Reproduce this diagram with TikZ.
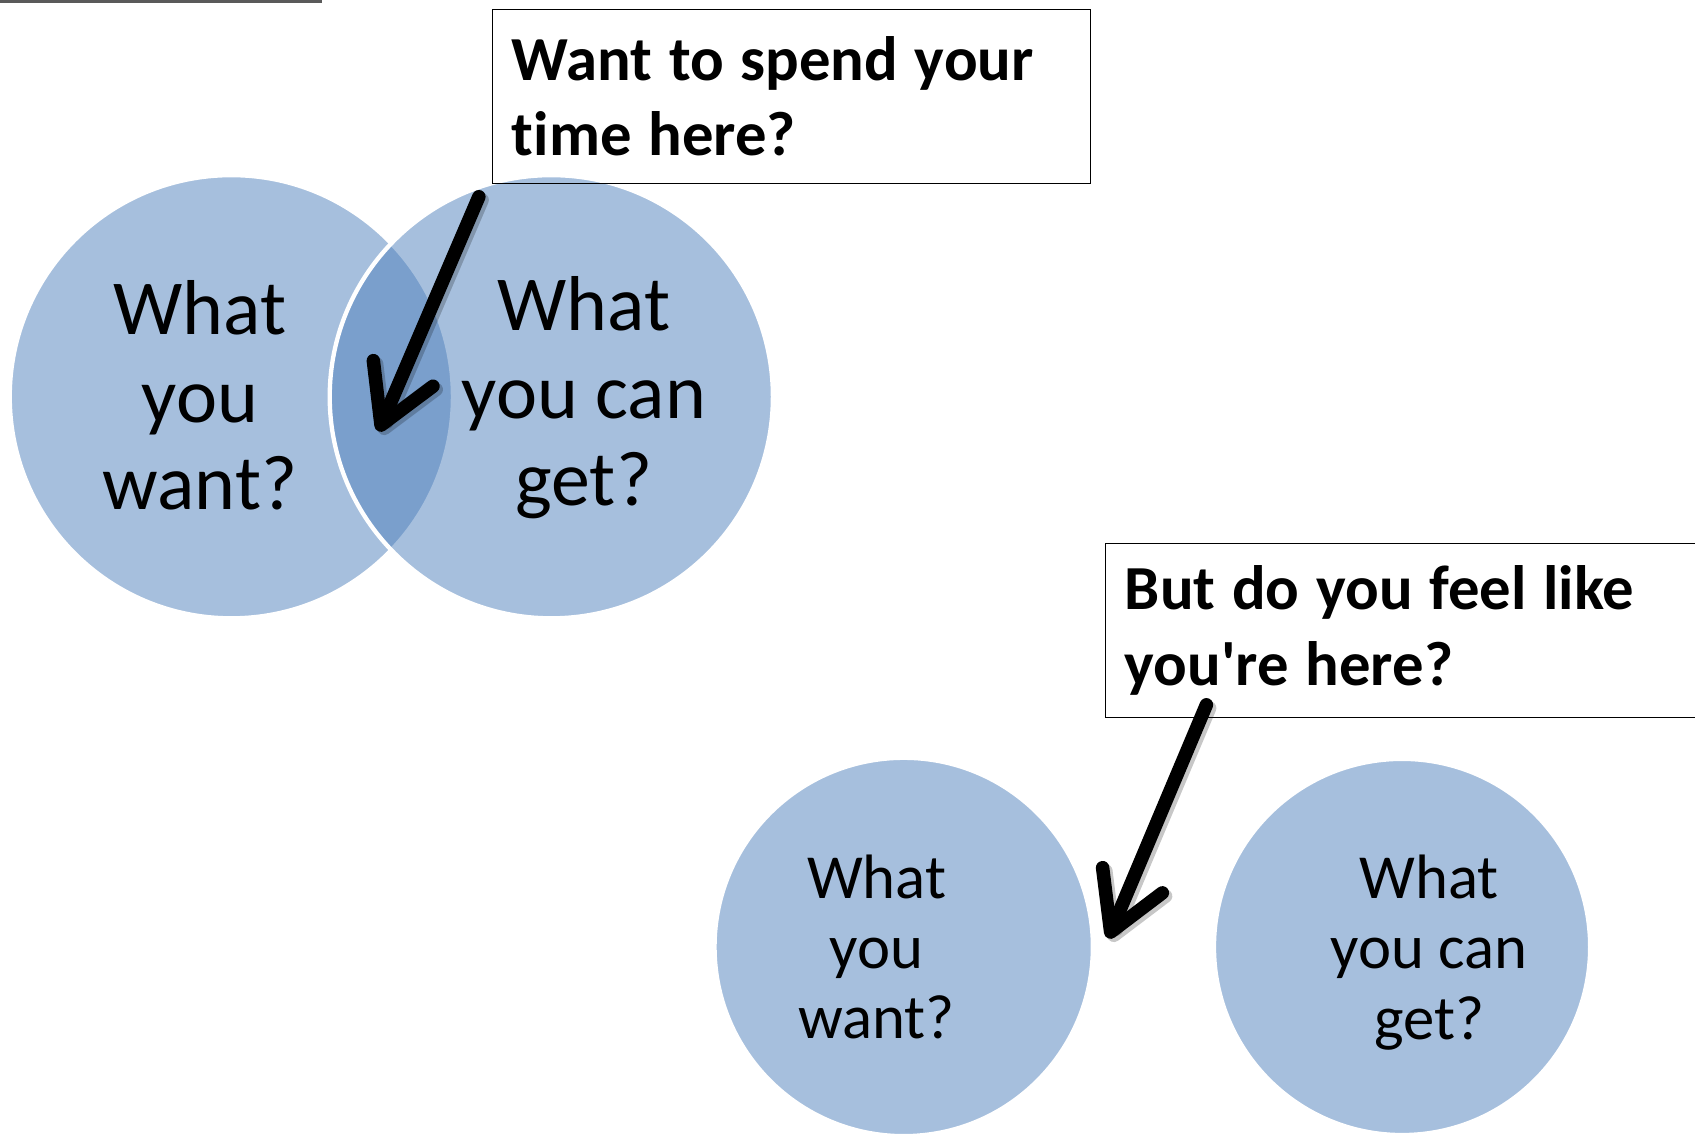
\documentclass[tikz,border=0pt]{standalone}
\usepackage{fontspec}
\setmainfont{Carlito}[Ligatures=NoCommon]
\newfontfamily\calloutfont{Carlito}[Ligatures=NoCommon]
\DeclareRobustCommand\calloutspacing{\spaceskip=15.5pt\relax}
\usetikzlibrary{arrows.meta}
\definecolor{accent}{HTML}{4F81BD}
\definecolor{topline}{HTML}{5A5A5A}
\begin{document}
\begin{tikzpicture}[x=1pt,y=-1pt,
  venn/.style={circle, fill=accent, fill opacity=0.5, draw=white, line width=4pt, inner sep=0pt},
  bigtxt/.style={align=center, font=\fontsize{72}{81}\selectfont, inner sep=0pt},
  smalltxt/.style={align=center, font=\fontsize{58}{65}\selectfont, inner sep=0pt},
  callout/.style={draw=black, line width=1.2pt, anchor=north west, align=left,
    font=\calloutfont\bfseries\fontsize{58}{70}\selectfont,
    inner xsep=18pt, inner ysep=0pt, minimum height=161pt},
  pointer/.style={line width=12.5pt, line cap=round, -{Straight Barb[round,length=52pt,width=60pt]}},
  pointershadow/.style={pointer, draw=black, draw opacity=0.22},
]
\useasboundingbox (0,0) rectangle (1568,1050);
\clip (0,0) rectangle (1568,1050);
\fill[white] (0,0) rectangle (1568,1050);
% top-left rule
\fill[topline] (0,0) rectangle (298,3);
% top Venn pair
\node[venn, minimum size=410pt] (tl) at (214,367) {};
\node[venn, minimum size=410pt] (tr) at (510,367) {};
\node[bigtxt] (tltxt) at (185,366) {What\\you\\want?};
\node[bigtxt] (trtxt) at (540,368) {What\\you can\\get?};
% bottom separate circles
\node[venn, minimum size=350pt] (bl) at (836,876) {};
\node[venn, minimum size=348pt] (br) at (1297,876) {};
\node[smalltxt] (bltxt) at (811,876) {What\\you\\want?};
\node[smalltxt] (brtxt) at (1322,881) {What\\you can\\get?};
% callout boxes
\node[callout, text width=517pt] (q1) at (455,8) {\calloutspacing Want to spend your\\time here?};
\node[callout, text width=600pt] (q2) at (1022,502) {\calloutspacing But do you feel like\\you're here?};
% arrows
\coordinate (a1s) at (443,182);
\coordinate (a1e) at (350,399);
\coordinate (a2s) at (1116,652);
\coordinate (a2e) at (1025,868);
\draw[pointershadow] ([shift={(3,3)}]a1s) -- ([shift={(3,3)}]a1e);
\draw[pointershadow] ([shift={(3,3)}]a2s) -- ([shift={(3,3)}]a2e);
\draw[pointer] (a1s) -- (a1e);
\draw[pointer] (a2s) -- (a2e);
\end{tikzpicture}
\end{document}
